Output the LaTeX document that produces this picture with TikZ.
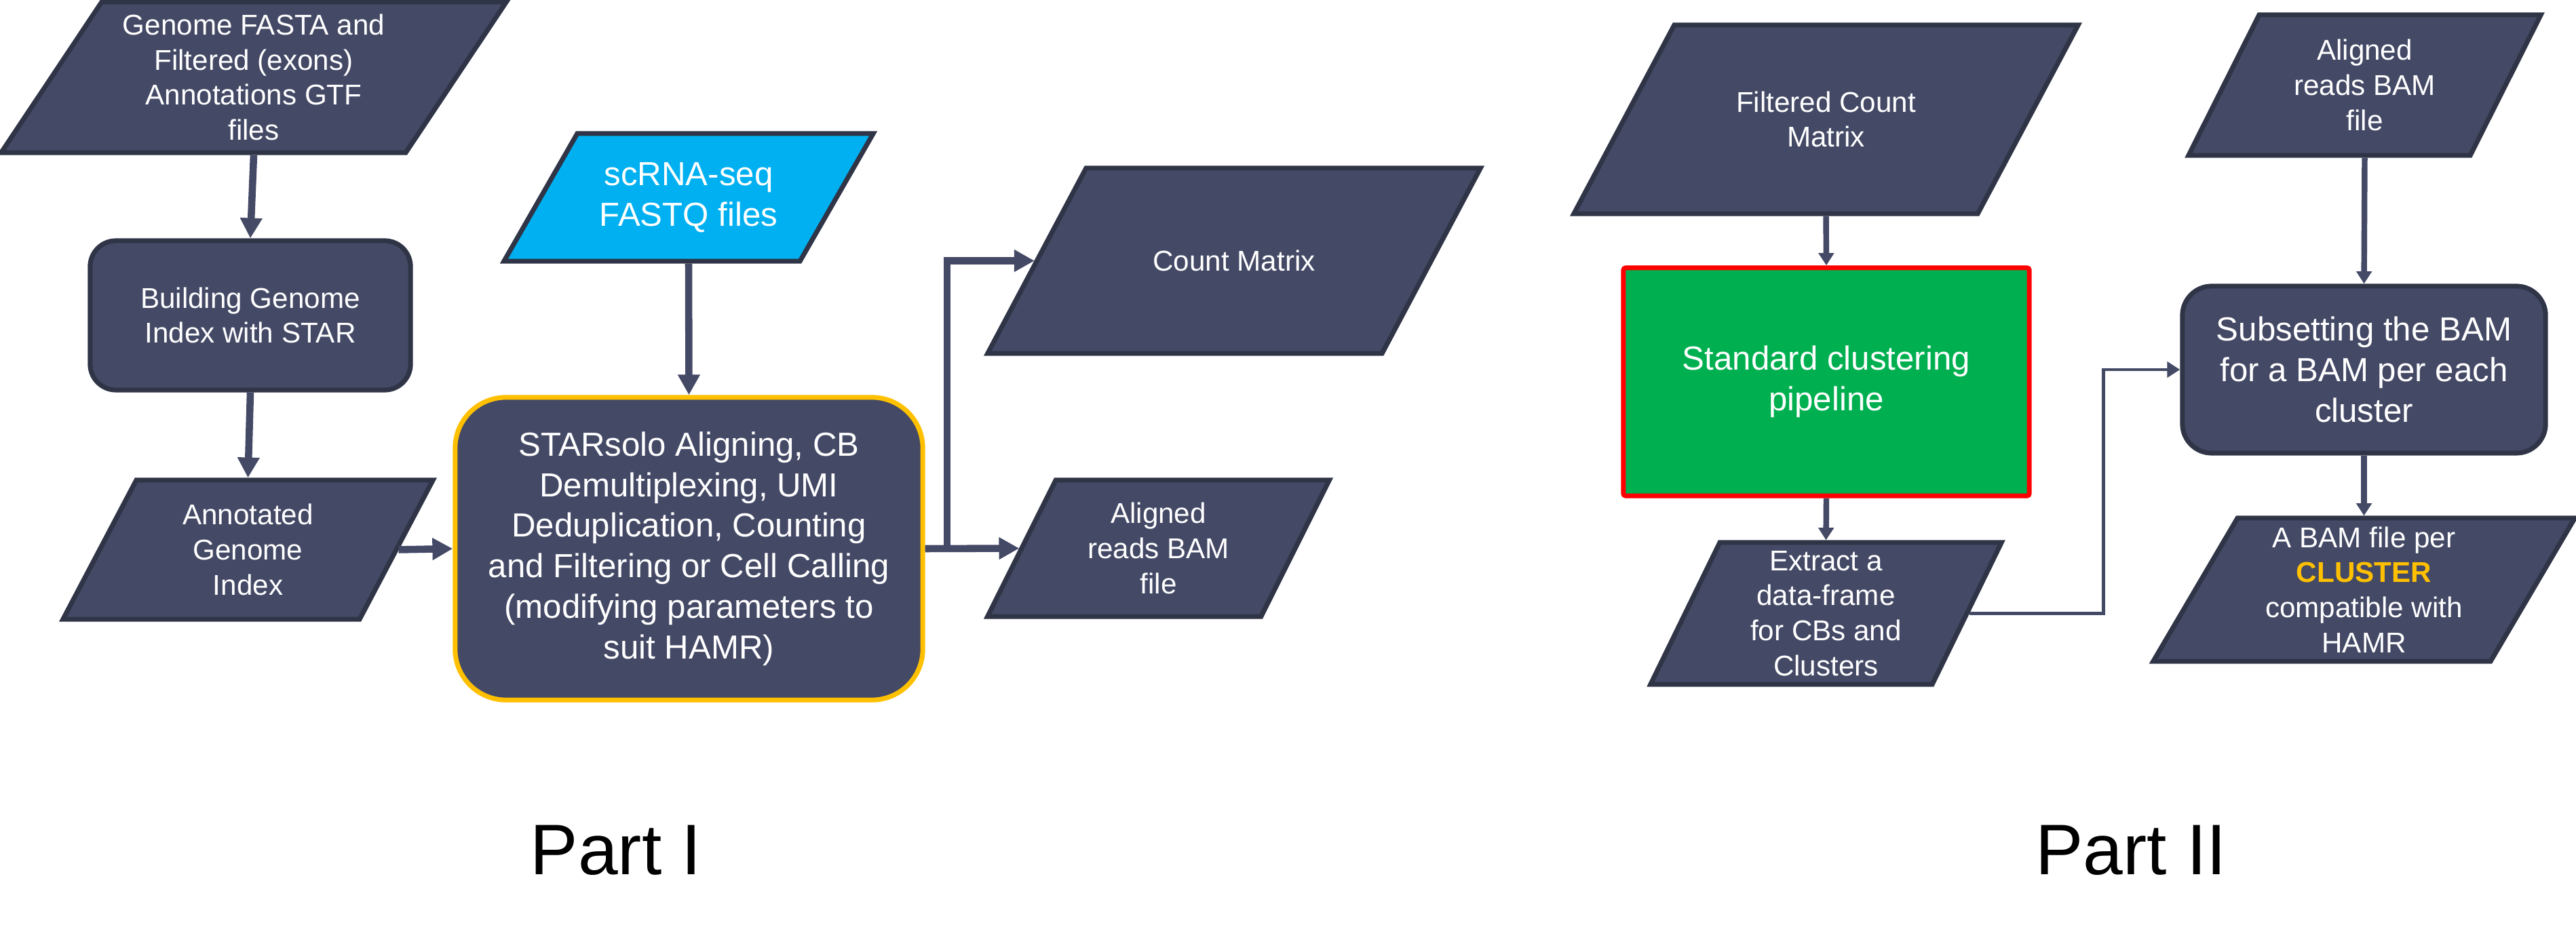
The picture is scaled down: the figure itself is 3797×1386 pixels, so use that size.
\documentclass[tikz,border=0pt]{standalone}
\usepackage{fontspec}
\setmainfont{Liberation Sans}
\usetikzlibrary{arrows.meta}

\definecolor{slate}{RGB}{68,73,102}
\definecolor{slateline}{RGB}{47,52,70}
\definecolor{fastqblue}{RGB}{0,176,240}
\definecolor{pipegreen}{RGB}{0,176,80}
\definecolor{gold}{RGB}{255,192,0}

\tikzset{
  boxbase/.style={draw=slateline, line width=2pt, fill=slate, inner sep=0pt},
  para/.style={boxbase},
  proc/.style={boxbase, rounded corners=#1},
  whitetxt/.style={text=white, align=center, font=\fontsize{12}{14.7}\selectfont},
  bigtxt/.style={text=white, align=center, font=\fontsize{14}{17}\selectfont},
  flow/.style={-{Triangle[width=8.8pt,length=8.5pt]}, line width=3pt, draw=slate},
  flowtwo/.style={-{Triangle[width=6.3pt,length=5.2pt]}, line width=2.4pt, draw=slate},
  thinflow/.style={-{Triangle[width=6.5pt,length=5.4pt]}, line width=1.4pt, draw=slate},
  parttxt/.style={font=\fontsize{30}{36}\selectfont}
}

\begin{document}
\begin{tikzpicture}[x=0.01cm, y=-0.01cm]
\path[use as bounding box, fill=white] (0,0) rectangle (3797,1386);

% Part I
\node[para, xslant=0.667, minimum width=5.96cm, minimum height=2.22cm] (genome) at (374,114) {};
\node[whitetxt] (genometext) at (genome.center) {Genome FASTA and\\Filtered (exons)\\Annotations GTF\\files};

\node[proc=0.38cm, whitetxt, minimum width=4.72cm, minimum height=2.2cm] (index) at (369,465) {Building Genome\\Index with STAR};

\node[para, xslant=0.527, minimum width=4.37cm, minimum height=2.05cm] (annot) at (365.5,810.5) {};
\node[whitetxt] (annottext) at (annot.center) {Annotated\\Genome\\Index};

\node[para, fill=fastqblue, xslant=0.574, minimum width=4.36cm, minimum height=1.88cm] (fastq) at (1015,291) {};
\node[bigtxt] (fastqtext) at (fastq.center) {scRNA-seq\\FASTQ files};

\node[proc=0.75cm, draw=gold, bigtxt, minimum width=6.89cm, minimum height=4.46cm] (starsolo) at (1015.5,809) {STARsolo Aligning, CB\\Demultiplexing, UMI\\Deduplication, Counting\\and Filtering or Cell Calling\\(modifying parameters to\\suit HAMR)};

\node[para, xslant=0.531, minimum width=5.81cm, minimum height=2.73cm] (counts) at (1819,384.5) {};
\node[whitetxt] (countstext) at (counts.center) {Count Matrix};

\node[para, xslant=0.5, minimum width=4.03cm, minimum height=2.01cm] (bam) at (1707.5,808.5) {};
\node[whitetxt] (bamtext) at (bam.center) {Aligned\\reads BAM\\file};

\coordinate (fork) at (1396,809);

% Part II
\node[para, xslant=0.532, minimum width=5.95cm, minimum height=2.78cm] (filtered) at (2691.5,176) {};
\node[whitetxt] (filteredtext) at (filtered.center) {Filtered Count\\Matrix};

\node[boxbase, fill=pipegreen, draw=red, rounded corners=1pt, bigtxt, minimum width=5.98cm, minimum height=3.36cm] (cluster) at (2692,563) {Standard clustering\\pipeline};

\node[para, xslant=0.488, minimum width=4.15cm, minimum height=2.09cm] (frame) at (2691.5,904.5) {};
\node[whitetxt] (frametext) at (frame.center) {Extract a\\data-frame\\for CBs and\\Clusters};

\node[para, xslant=0.502, minimum width=4.15cm, minimum height=2.07cm] (reads) at (3485.5,125.5) {};
\node[whitetxt] (readstext) at (reads.center) {Aligned\\reads BAM\\file};

\node[proc=0.43cm, bigtxt, minimum width=5.35cm, minimum height=2.46cm] (subset) at (3484.5,545) {Subsetting the BAM\\for a BAM per each\\cluster};

\node[para, xslant=0.588, minimum width=4.97cm, minimum height=2.11cm] (percluster) at (3484.5,869.5) {};
\node[whitetxt] (perclustertext) at (percluster.center) {A BAM file per\\\textcolor{gold}{\textbf{CLUSTER}}\\compatible with\\HAMR};

\coordinate (elbow) at (3100,545);

\node[parttxt] (partone) at (908,1254) {Part I};
\node[parttxt] (parttwo) at (3141,1254) {Part II};

\draw[flow] (genome.center |- genome.south) -- (index.north);
\draw[flow] (index.south) -- (annot.center |- annot.north);
\draw[flow] (annot.east) -- (starsolo.west);
\draw[flow] (fastq.center |- fastq.south) -- (starsolo.north);
\draw[flow] (starsolo.east) -- (bam.west);
\draw[flow] (fork) |- (counts.west);

\draw[flowtwo] (filtered.center |- filtered.south) -- (cluster.north);
\draw[flowtwo] (cluster.south) -- (frame.center |- frame.north);
\draw[thinflow] (frame.east) -| (elbow) -- (subset.west);
\draw[flowtwo] (reads.center |- reads.south) -- (subset.north);
\draw[flowtwo] (subset.south) -- (percluster.center |- percluster.north);
\end{tikzpicture}
\end{document}
